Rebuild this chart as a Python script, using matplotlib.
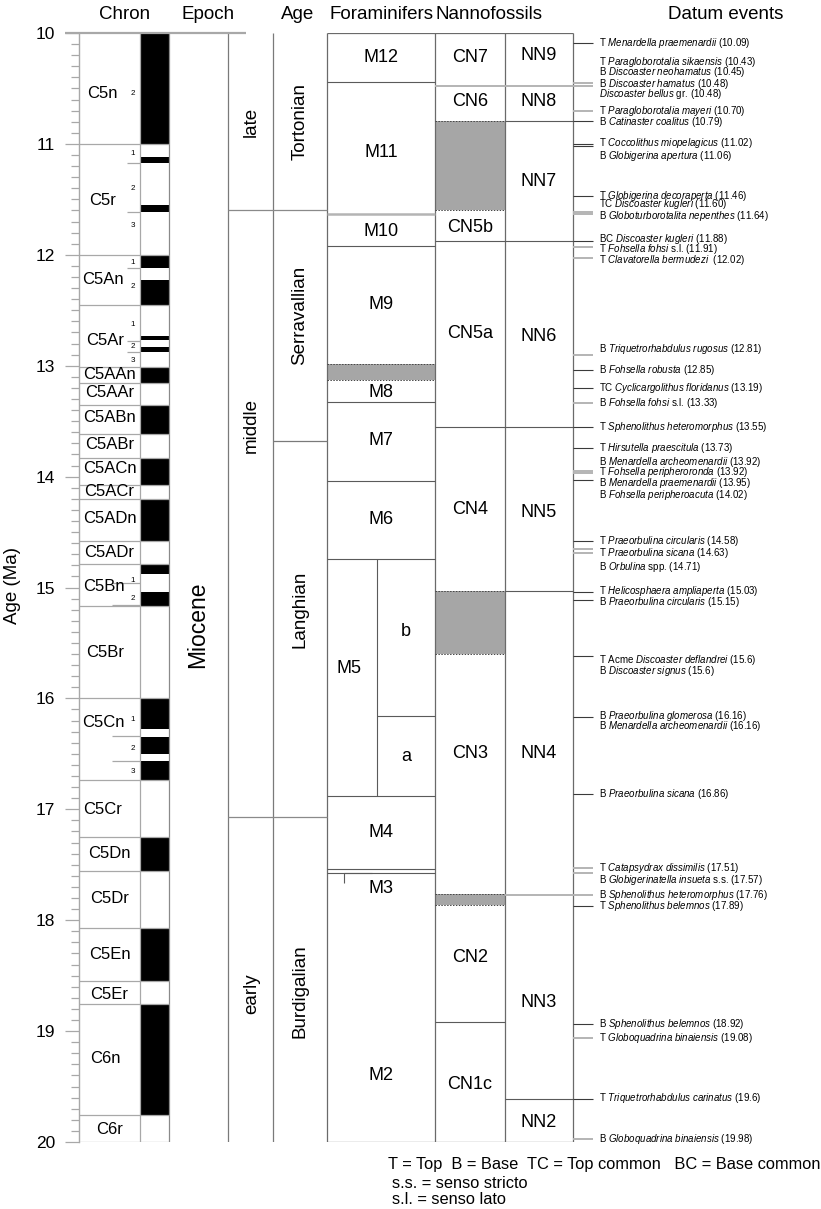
import matplotlib
matplotlib.use('Agg')
import matplotlib.pyplot as plt

plt.rcParams['font.family'] = ['Liberation Sans', 'DejaVu Sans']
plt.rcParams['mathtext.fontset'] = 'custom'
plt.rcParams['mathtext.rm'] = 'Liberation Sans'
plt.rcParams['mathtext.it'] = 'Liberation Sans:italic'
plt.rcParams['mathtext.bf'] = 'Liberation Sans:bold'

# ---------------- data ----------------
headers = ['Chron', 'Epoch', 'Age', 'Foraminifers', 'Nannofossils', 'Datum events']

chron_names = ['C5n', 'C5r', 'C5An', 'C5Ar', 'C5AAn', 'C5AAr', 'C5ABn', 'C5ABr', 'C5ACn',
               'C5ACr', 'C5ADn', 'C5ADr', 'C5Bn', 'C5Br', 'C5Cn', 'C5Cr', 'C5Dn', 'C5Dr',
               'C5En', 'C5Er', 'C6n', 'C6r']
chron_top = [10.0, 11.0, 12.0, 12.45, 13.01, 13.16, 13.35, 13.62, 13.83, 14.08, 14.20,
             14.58, 14.79, 15.17, 16.0, 16.74, 17.25, 17.56, 18.07, 18.55, 18.76, 19.76]
chron_label_age = [10.55, 11.51, 12.22, 12.77, 13.08, 13.24, 13.47, 13.715, 13.925, 14.135,
                   14.375, 14.685, 14.99, 15.59, 16.22, 17.005, 17.40, 17.80, 18.31, 18.67,
                   19.25, 19.89]
normal_top = [10.0, 11.12, 11.55, 12.0, 12.23, 12.73, 12.83, 13.01, 13.35, 13.83, 14.20,
              14.79, 15.04, 16.0, 16.345, 16.565, 17.25, 18.07, 18.76]
normal_base = [11.0, 11.17, 11.61, 12.12, 12.45, 12.77, 12.88, 13.16, 13.62, 14.08, 14.58,
               14.88, 15.17, 16.28, 16.50, 16.74, 17.56, 18.55, 19.76]
subchron_numbers = ['2', '1', '2', '3', '1', '2', '1', '2', '3', '1', '2', '1', '2', '3']
subchron_number_age = [10.55, 11.09, 11.40, 11.74, 12.07, 12.29, 12.63, 12.83, 12.95,
                       14.94, 15.10, 16.19, 16.45, 16.66]
subchron_line_age = [11.175, 11.61, 12.12, 12.775, 12.876, 14.96, 15.16, 16.34, 16.565]

epoch_name = 'Miocene'
epoch_label_age = 15.34
subepoch_names = ['late', 'middle', 'early']
subepoch_bounds = [10.0, 11.6, 17.07, 20.0]
subepoch_label_age = [10.80, 13.54, 18.66]
stage_names = ['Tortonian', 'Serravallian', 'Langhian', 'Burdigalian']
stage_bounds = [10.0, 11.6, 13.68, 17.07, 20.0]
stage_label_age = [10.80, 12.55, 15.20, 18.64]

foram_names = ['M12', 'M11', 'M10', 'M9', 'M8', 'M7', 'M6', 'M5', 'M4', 'M3', 'M2']
foram_label_age = [10.22, 11.08, 11.79, 12.45, 13.24, 13.67, 14.39, 15.73, 17.21, 17.71, 19.40]
foram_line_age = [10.44, 11.63, 11.92, 13.33, 14.04, 14.74, 16.88, 17.54, 17.57]
foram_line_light = [False, True, False, False, False, False, False, False, False]
foram_shade = [(12.985, 13.13)]
m5_sub_names = ['b', 'a']
m5_sub_bounds = [14.74, 16.16, 16.88]
m5_sub_label_age = [15.40, 16.52]
m3_range = (17.575, 17.665)

cn_names = ['CN7', 'CN6', 'CN5b', 'CN5a', 'CN4', 'CN3', 'CN2', 'CN1c']
cn_label_age = [10.22, 10.62, 11.75, 12.71, 14.30, 16.50, 18.34, 19.48]
cn_line_age = [10.48, 11.88, 13.55, 18.92]
cn_line_light = [True, False, False, False]
cn_shade = [(10.79, 11.60), (15.03, 15.60), (17.765, 17.86)]

nn_names = ['NN9', 'NN8', 'NN7', 'NN6', 'NN5', 'NN4', 'NN3', 'NN2']
nn_label_age = [10.20, 10.62, 11.34, 12.74, 14.32, 16.50, 18.74, 19.82]
nn_line_age = [10.48, 10.79, 11.88, 13.55, 15.03, 17.77, 19.61]
nn_line_light = [True, False, False, False, False, True, False]

datum_prefix = ['T', 'T', 'B', 'B', '', 'T', 'B', 'T', 'B', 'T', 'TC', 'B', 'BC', 'T', 'T',
                'B', 'B', 'TC', 'B', 'T', 'T', 'B', 'T', 'B', 'B', 'T', 'T', 'B', 'T', 'B',
                'T Acme', 'B', 'B', 'B', 'B', 'T', 'B', 'B', 'T', 'B', 'T', 'T', 'B']
datum_taxon = ['Menardella praemenardii', 'Paragloborotalia sikaensis',
               'Discoaster neohamatus', 'Discoaster hamatus', 'Discoaster bellus',
               'Paragloborotalia mayeri', 'Catinaster coalitus', 'Coccolithus miopelagicus',
               'Globigerina apertura', 'Globigerina decoraperta', 'Discoaster kugleri',
               'Globoturborotalita nepenthes', 'Discoaster kugleri', 'Fohsella fohsi',
               'Clavatorella bermudezi', 'Triquetrorhabdulus rugosus', 'Fohsella robusta',
               'Cyclicargolithus floridanus', 'Fohsella fohsi', 'Sphenolithus heteromorphus',
               'Hirsutella praescitula', 'Menardella archeomenardii', 'Fohsella peripheroronda',
               'Menardella praemenardii', 'Fohsella peripheroacuta', 'Praeorbulina circularis',
               'Praeorbulina sicana', 'Orbulina', 'Helicosphaera ampliaperta',
               'Praeorbulina circularis', 'Discoaster deflandrei', 'Discoaster signus',
               'Praeorbulina glomerosa', 'Menardella archeomenardii', 'Praeorbulina sicana',
               'Catapsydrax dissimilis', 'Globigerinatella insueta',
               'Sphenolithus heteromorphus', 'Sphenolithus belemnos', 'Sphenolithus belemnos',
               'Globoquadrina binaiensis', 'Triquetrorhabdulus carinatus',
               'Globoquadrina binaiensis']
datum_qualifier = ['', '', '', '', 'gr.', '', '', '', '', '', '', '', '', 's.l.', '',
                   '', '', '', 's.l.', '', '', '', '', '', '', '', '', 'spp.', '', '',
                   '', '', '', '', '', '', 's.s.', '', '', '', '', '', '']
datum_age_text = ['10.09', '10.43', '10.45', '10.48', '10.48', '10.70', '10.79', '11.02',
                  '11.06', '11.46', '11.60', '11.64', '11.88', '11.91', '12.02', '12.81',
                  '12.85', '13.19', '13.33', '13.55', '13.73', '13.92', '13.92', '13.95',
                  '14.02', '14.58', '14.63', '14.71', '15.03', '15.15', '15.6', '15.6',
                  '16.16', '16.16', '16.86', '17.51', '17.57', '17.76', '17.89', '18.92',
                  '19.08', '19.6', '19.98']
datum_line_age = [10.09, None, 10.45, 10.48, None, 10.70, 10.79, 11.005, 11.02, 11.47,
                  11.61, 11.63, 11.88, 11.93, 12.03, 12.90, 13.04, 13.20, 13.34, 13.55,
                  13.74, 13.95, 13.965, 14.03, None, 14.58, 14.655, 14.69, 15.04, 15.11,
                  15.62, None, 16.165, None, 16.865, 17.53, 17.57, 17.77, 17.87, 18.94,
                  19.065, 19.61, 19.97]
datum_line_light = [False, False, True, True, False, True, False, False, False, False,
                    True, True, False, True, True, True, False, False, True, False,
                    False, True, True, False, False, False, True, True, False, False,
                    False, False, False, False, False, True, True, True, False, False,
                    True, False, True]
datum_label_age = [10.093, 10.264, 10.354, 10.460, 10.553, 10.703, 10.805, 10.995, 11.109,
                   11.470, 11.545, 11.650, 11.858, 11.948, 12.047, 12.849, 13.039, 13.204,
                   13.339, 13.550, 13.739, 13.866, 13.956, 14.055, 14.166, 14.581, 14.692,
                   14.812, 15.035, 15.127, 15.654, 15.753, 16.160, 16.252, 16.865, 17.532,
                   17.638, 17.773, 17.872, 18.936, 19.065, 19.606, 19.973]

legend_lines = ['T = Top  B = Base  TC = Top common   BC = Base common',
                's.s. = senso stricto',
                's.l. = senso lato']

# ---------------- layout (pixel columns) ----------------
W, H = 821, 1209
Y10, PXMA = 33, 110.9
X_AX, X_DIV, X_POL, X_EP, X_SUB, X_ST = 79, 140, 169, 228, 273, 327
X_FO, X_CN, X_NN, X_DT, X_TX = 435, 505, 573, 593, 599

DARK = '#5a5a5a'
LIGHT = '#b4b4b4'
CHR = '#a8a8a8'
SHADE = '#a6a6a6'


def age_at(py):
    return 10 + (py - Y10) / PXMA


fig = plt.figure(figsize=(W / 100, H / 100), dpi=100)
ax = fig.add_axes([X_AX / W, (H - 1142) / H, (W - X_AX) / W, (1142 - Y10) / H])
ax.set_xlim(X_AX, W)
ax.set_ylim(20, 10)
for s in ['top', 'right', 'bottom']:
    ax.spines[s].set_visible(False)
ax.spines['left'].set_color(CHR)
ax.spines['left'].set_linewidth(1.0)
ax.set_xticks([])
ax.set_yticks(range(10, 21))
ax.set_yticks([10 + i / 10 for i in range(101) if i % 10], minor=True)
ax.tick_params(axis='y', which='major', length=10.1, width=0.9, color=CHR,
               labelsize=12.5, pad=7)
ax.tick_params(axis='y', which='minor', length=5.8, width=0.9, color=CHR)
ax.text((12.5 - X_AX) / (W - X_AX), 1 - (585 - Y10) / (1142 - Y10), 'Age (Ma)',
        transform=ax.transAxes, rotation=90, ha='center', va='center', fontsize=13.5)

# headers
header_x = [125, 208, 298, 381, 489, 726]
for hx, ht in zip(header_x, headers):
    ax.text(hx, age_at(14), ht, ha='center', va='center', fontsize=13.5, clip_on=False)

# ---------- Chron column ----------
ax.bar([(X_DIV + X_POL) / 2] * len(normal_top),
       [b - t for t, b in zip(normal_top, normal_base)], bottom=normal_top,
       width=X_POL - X_DIV, color='black', align='center', zorder=2)
ax.hlines(chron_top[1:], X_AX, X_POL, color=CHR, lw=0.9, zorder=3)
ax.hlines(20, X_AX, X_POL, color=CHR, lw=0.9)
ax.vlines(X_DIV, 10, 20, color=CHR, lw=0.9)
ax.vlines(X_POL, 10, 20, color='#8a8a8a', lw=0.9)
ax.hlines(10, 65, 246, color=CHR, lw=1.6, clip_on=False, zorder=4)
for i, a in enumerate(subchron_line_age):
    ax.hlines(a, 127 if i < 5 else 112, X_DIV, color=CHR, lw=0.9)
chron_x = {'C5n': 102, 'C5r': 103, 'C5An': 103, 'C5Ar': 105, 'C5Bn': 104, 'C5Br': 105,
           'C5Cn': 103, 'C5Cr': 103, 'C6n': 105}
for name, a in zip(chron_names, chron_label_age):
    ax.text(chron_x.get(name, 109.5), a, name, ha='center', va='center', fontsize=12)
for num, a in zip(subchron_numbers, subchron_number_age):
    ax.text(133, a, num, ha='center', va='center', fontsize=5.8)

# ---------- Epoch / sub-epoch / stage ----------
ax.vlines([X_EP, X_SUB], 10, 20, color='#7a7a7a', lw=0.9)
ax.vlines(X_ST, 10, 20, color='#6a6a6a', lw=0.9)
ax.text((X_POL + X_EP) / 2 - 1, epoch_label_age, epoch_name, rotation=90, ha='center',
        va='center', fontsize=16.5)
ax.hlines(subepoch_bounds[1:-1], X_EP, X_ST, color='#8a8a8a', lw=0.9)
for name, a in zip(subepoch_names, subepoch_label_age):
    ax.text((X_EP + X_SUB) / 2 + 1, a, name, rotation=90, ha='center', va='center',
            fontsize=13.5)
ax.hlines(stage_bounds[2:3], X_SUB, X_ST, color='#7a7a7a', lw=0.9)
for name, a in zip(stage_names, stage_label_age):
    ax.text((X_SUB + X_ST) / 2, a, name, rotation=90, ha='center', va='center',
            fontsize=13.5)

# ---------- zone columns ----------
ax.vlines([X_FO, X_CN, X_NN], 10, 20, color='#6a6a6a', lw=0.9)
ax.hlines([10, 20], X_ST, X_NN, color='#6a6a6a', lw=0.9)

# foraminifers
for a, light in zip(foram_line_age, foram_line_light):
    ax.hlines(a, X_ST, X_FO, color=LIGHT if light else DARK, lw=1.8 if light else 0.8)
for t, b in foram_shade:
    ax.fill_betweenx([t, b], X_ST, X_FO, color=SHADE, lw=0)
    ax.hlines([t, b], X_ST, X_FO, color='#444444', lw=0.7, linestyles=(0, (1.5, 1.5)))
ax.vlines(377, m5_sub_bounds[0], m5_sub_bounds[-1], color=DARK, lw=0.8)
ax.hlines(m5_sub_bounds[1:-1], 377, X_FO, color=DARK, lw=0.8)
ax.vlines(344, m3_range[0], m3_range[1], color=DARK, lw=0.8)
ax.hlines(m3_range[0], 344, 372, color=DARK, lw=0.8)
for name, a in zip(foram_names, foram_label_age):
    ax.text(349 if name == 'M5' else (X_ST + X_FO) / 2, a, name, ha='center', va='center',
            fontsize=13)
for name, a in zip(m5_sub_names, m5_sub_label_age):
    ax.text((377 + X_FO) / 2, a, name, ha='center', va='center', fontsize=13)

# nannofossils CN
for t, b in cn_shade:
    ax.fill_betweenx([t, b], X_FO, X_CN, color=SHADE, lw=0)
    ax.hlines([t, b], X_FO, X_CN, color='#444444', lw=0.7, linestyles=(0, (1.5, 1.5)))
for a, light in zip(cn_line_age, cn_line_light):
    ax.hlines(a, X_FO, X_CN, color=LIGHT if light else DARK, lw=1.4 if light else 0.8)
for name, a in zip(cn_names, cn_label_age):
    ax.text((X_FO + X_CN) / 2, a, name, ha='center', va='center', fontsize=13)

# nannofossils NN
for a, light in zip(nn_line_age, nn_line_light):
    ax.hlines(a, X_CN, X_NN, color=LIGHT if light else DARK, lw=1.4 if light else 0.8)
for name, a in zip(nn_names, nn_label_age):
    ax.text((X_CN + X_NN) / 2, a, name, ha='center', va='center', fontsize=13)

# ---------- datum events ----------
for pre, tax, qual, agetxt, la, light, ya in zip(datum_prefix, datum_taxon, datum_qualifier,
                                                  datum_age_text, datum_line_age,
                                                  datum_line_light, datum_label_age):
    if la is not None:
        ax.hlines(la, X_NN, X_DT, color=LIGHT if light else '#3a3a3a',
                  lw=1.4 if light else 0.8, clip_on=False)
    s = ''
    if pre:
        s += pre + ' '
    s += '$\\mathit{' + tax.replace(' ', '\\ ') + '}$'
    if qual:
        s += ' ' + qual
    s += (' ' if tax != 'Clavatorella bermudezi' else '  ') + '(' + agetxt + ')'
    ax.text(X_TX, ya, s, ha='left', va='center', fontsize=7.0, clip_on=False)

# legend
legend_y = [1165, 1183, 1200]
legend_x = [388, 392, 392]
for lx, ly, t in zip(legend_x, legend_y, legend_lines):
    ax.text(lx, age_at(ly), t, ha='left', va='center', fontsize=11.8, clip_on=False)

fig.savefig('out.png', dpi=100)
